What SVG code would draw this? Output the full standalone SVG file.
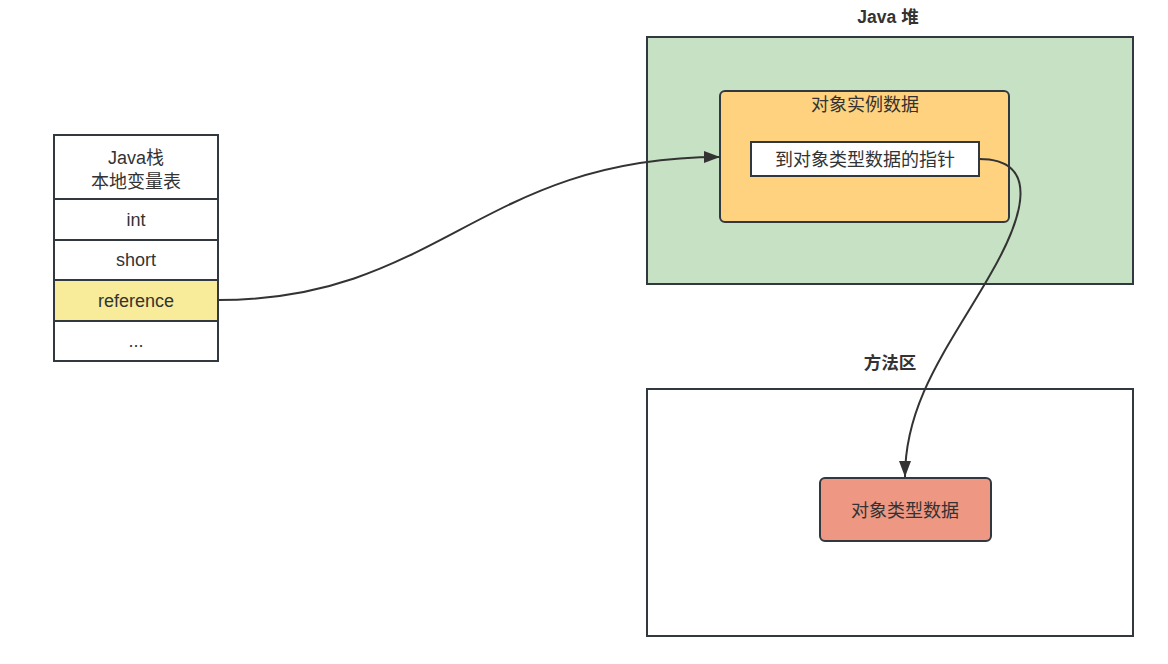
<svg xmlns="http://www.w3.org/2000/svg" width="1168" height="664" viewBox="0 0 1168 664">
<defs>
<style>
.b{stroke:#323840;stroke-width:2}
.t{font-family:"Liberation Sans","Noto Sans CJK SC",sans-serif;font-size:18px;fill:#333;text-anchor:middle}
.h{font-family:"Liberation Sans","Noto Sans CJK SC",sans-serif;font-size:17.5px;font-weight:bold;fill:#333;text-anchor:middle}
.c{fill:none;stroke:#333;stroke-width:2}
</style>
<marker id="a" viewBox="0 0 16 12" refX="16" refY="6" markerWidth="16" markerHeight="12" markerUnits="userSpaceOnUse" orient="auto">
<path d="M0,0 L16,6 L0,12 z" fill="#333"/>
</marker>
</defs>
<rect width="1168" height="664" fill="#fff"/>
<g id="heap">
<text class="h" x="888" y="23">Java 堆</text>
<rect class="b" x="647" y="37" width="486" height="247" fill="#c6e1c3"/>
</g>
<g id="method-area">
<text class="h" x="890" y="369">方法区</text>
<rect class="b" x="647" y="389" width="486" height="247" fill="#fff"/>
</g>
<g id="stack">
<rect class="b" x="54" y="135" width="164" height="64" fill="#fff"/>
<text class="t" x="136" y="164">Java栈</text>
<text class="t" x="136" y="188">本地变量表</text>
<rect class="b" x="54" y="199" width="164" height="41" fill="#fff"/>
<text class="t" x="136" y="226">int</text>
<rect class="b" x="54" y="240" width="164" height="40" fill="#fff"/>
<text class="t" x="136" y="266">short</text>
<rect class="b" x="54" y="280" width="164" height="41" fill="#f8eb99"/>
<text class="t" x="136" y="307">reference</text>
<rect class="b" x="54" y="321" width="164" height="40" fill="#fff"/>
<text class="t" x="136" y="347">...</text>
</g>
<g id="instance-data">
<rect class="b" x="720" y="91" width="289" height="131" rx="5" fill="#fed27e"/>
<text class="t" x="865" y="111">对象实例数据</text>
</g>
<g id="pointer">
<rect class="b" x="751" y="142" width="228" height="34" fill="#fff"/>
<text class="t" x="865" y="166">到对象类型数据的指针</text>
</g>
<g id="type-data">
<rect class="b" x="820" y="478" width="171" height="63" rx="5" fill="#ee9783"/>
<text class="t" x="905" y="517">对象类型数据</text>
</g>
<g id="connectors">
<path class="c" d="M218,300 C440,300 480,157 720,157" marker-end="url(#a)"/>
<path class="c" d="M979,159 C1040,159 1025,215 990,275 C950,345 905,400 905,477" marker-end="url(#a)"/>
</g>
</svg>
